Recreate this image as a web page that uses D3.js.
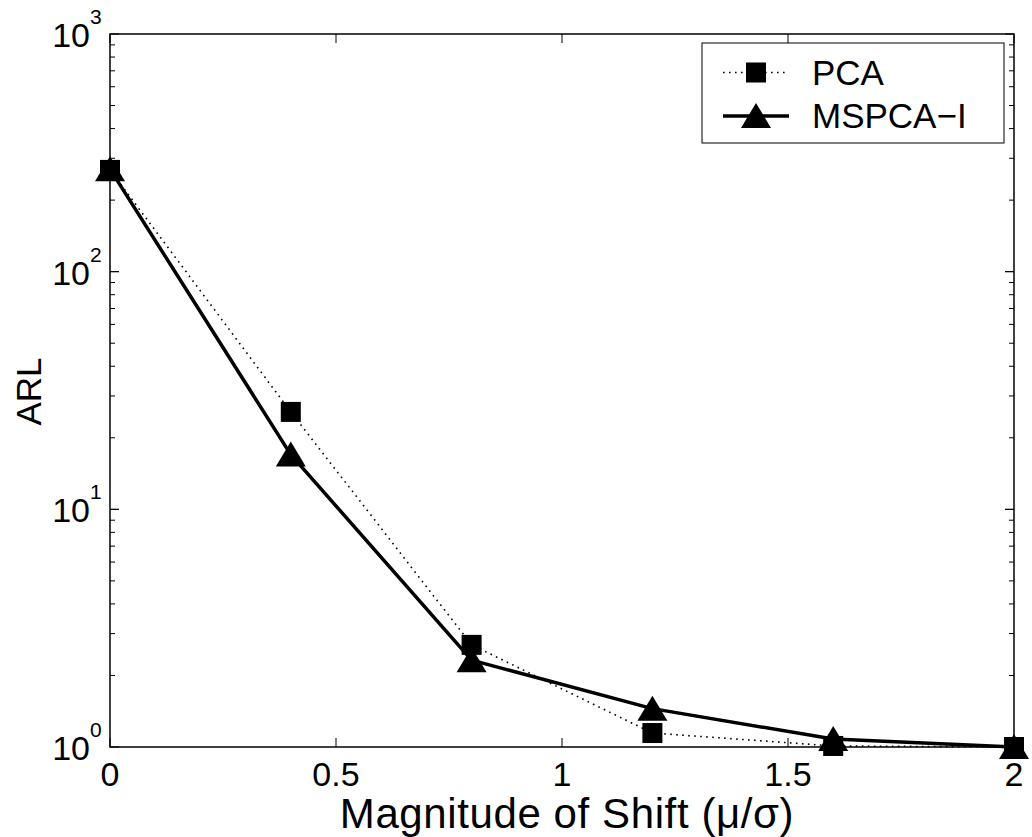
<!DOCTYPE html>
<html><head><meta charset="utf-8">
<script src="https://cdn.jsdelivr.net/npm/d3@7"></script>
<style>body{margin:0;background:#fff}svg{display:block}text{font-family:"Liberation Sans",Arial,sans-serif;fill:#000}</style>
</head><body><svg id="c" width="1032" height="837"></svg>
<script>
const shifts = [0, 0.4, 0.8, 1.2, 1.6, 2];
const pcaARL = [268, 25.7, 2.69, 1.145, 1.01, 1.0];
const mspcaARL = [270, 17.0, 2.32, 1.45, 1.08, 1.0];
const xTicks = [0, 0.5, 1, 1.5, 2];
const xTickLabels = ["0", "0.5", "1", "1.5", "2"];
const yExps = [0, 1, 2, 3];
const seriesNames = ["PCA", "MSPCA\u2212I"];

const svg = d3.select("#c");
const L = 110, R = 1014, T = 34, B = 747;
const x = d3.scaleLinear().domain([0, 2]).range([L, R]);
const y = d3.scaleLog().domain([1, 1000]).range([B, T]);

svg.append("rect").attr("width", 1032).attr("height", 837).attr("fill", "#fff");

const g = svg.append("g");
const tk = g.append("g").attr("stroke", "#000").attr("stroke-width", 1);
xTicks.forEach(v => {
  tk.append("line").attr("x1", x(v)).attr("x2", x(v)).attr("y1", B).attr("y2", B - 9);
  tk.append("line").attr("x1", x(v)).attr("x2", x(v)).attr("y1", T).attr("y2", T + 9);
});
for (let e = 0; e < 3; e++) {
  for (let m = 1; m <= 10; m++) {
    const v = m * Math.pow(10, e);
    const len = (m === 1 || m === 10) ? 9 : 5;
    tk.append("line").attr("x1", L).attr("x2", L + len).attr("y1", y(v)).attr("y2", y(v));
    tk.append("line").attr("x1", R).attr("x2", R - len).attr("y1", y(v)).attr("y2", y(v));
  }
}
g.append("rect").attr("x", L).attr("y", T).attr("width", R - L).attr("height", B - T)
  .attr("fill", "none").attr("stroke", "#000").attr("stroke-width", 1.5);

xTicks.forEach((v, i) => {
  g.append("text").attr("x", x(v)).attr("y", B + 39).attr("text-anchor", "middle")
    .attr("font-size", 34).text(xTickLabels[i]);
});
yExps.forEach(e => {
  const yy = y(Math.pow(10, e));
  g.append("text").attr("x", 90).attr("y", yy + 13).attr("text-anchor", "end")
    .attr("font-size", 34).text("10");
  g.append("text").attr("x", 90).attr("y", yy - 10).attr("text-anchor", "start")
    .attr("font-size", 21).text(String(e));
});

g.append("text").attr("x", 567).attr("y", 828).attr("text-anchor", "middle")
  .attr("font-size", 42).attr("letter-spacing", 0.6).text("Magnitude of Shift (\u03bc/\u03c3)");
g.append("text").attr("transform", `translate(41,${(T + B) / 2 + 1}) rotate(-90)`)
  .attr("text-anchor", "middle").attr("font-size", 35).text("ARL");

const line = d3.line().x((d, i) => x(shifts[i])).y(d => y(d));
g.append("path").datum(pcaARL).attr("d", line).attr("fill", "none")
  .attr("stroke", "#000").attr("stroke-width", 1.6).attr("stroke-dasharray", "1.6,4.4");
g.append("path").datum(mspcaARL).attr("d", line).attr("fill", "none")
  .attr("stroke", "#000").attr("stroke-width", 3.5).attr("stroke-linejoin", "round");

const sq = 20;
function square(sel, cx, cy) {
  sel.append("rect").attr("x", cx - sq / 2).attr("y", cy - sq / 2).attr("width", sq).attr("height", sq).attr("fill", "#000");
}
function triangle(sel, cx, cy) {
  sel.append("path").attr("d", "M0,-13L15,12L-15,12Z").attr("transform", `translate(${cx},${cy})`).attr("fill", "#000");
}
pcaARL.forEach((v, i) => square(g, x(shifts[i]), y(v)));
mspcaARL.forEach((v, i) => triangle(g, x(shifts[i]), y(v)));

const lg = g.append("g");
lg.append("rect").attr("x", 702).attr("y", 43).attr("width", 302).attr("height", 100)
  .attr("fill", "#fff").attr("stroke", "#000").attr("stroke-width", 1);
lg.append("line").attr("x1", 723).attr("x2", 789).attr("y1", 72.5).attr("y2", 72.5)
  .attr("stroke", "#000").attr("stroke-width", 1.6).attr("stroke-dasharray", "1.6,4.4");
square(lg, 756, 72.5);
lg.append("line").attr("x1", 723).attr("x2", 789).attr("y1", 116).attr("y2", 116)
  .attr("stroke", "#000").attr("stroke-width", 3.5);
triangle(lg, 756, 116);
lg.append("text").attr("x", 812).attr("y", 85).attr("font-size", 35).text(seriesNames[0]);
lg.append("text").attr("x", 812).attr("y", 128).attr("font-size", 35).text(seriesNames[1]);
</script></body></html>
